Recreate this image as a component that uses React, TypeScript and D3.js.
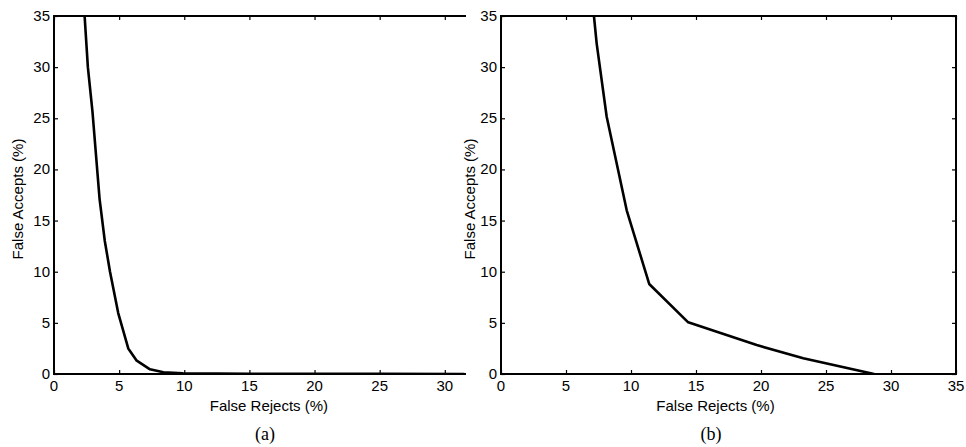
import React, { useEffect, useRef } from "react";
import * as d3 from "d3";

// panel (a) curve
const rejectsA = [2.35, 2.6, 2.95, 3.5, 3.9, 4.3, 4.93, 5.7, 6.35, 7.37, 8.4, 9.9, 15, 20, 25, 31.5];
const acceptsA = [35, 30, 25.7, 17.1, 13, 10, 5.96, 2.5, 1.3, 0.46, 0.17, 0.07, 0.03, 0.02, 0.01, 0];

// panel (b) curve
const rejectsB = [7.15, 7.36, 8.13, 9.67, 11.4, 14.4, 19.67, 23.25, 28.7];
const acceptsB = [35, 32.3, 25.15, 16.0, 8.8, 5.05, 2.83, 1.53, 0];

const yTicks = [0, 5, 10, 15, 20, 25, 30, 35];
const xTicksA = [0, 5, 10, 15, 20, 25, 30];
const xTicksB = [0, 5, 10, 15, 20, 25, 30, 35];

const W = 966;
const H = 447;
const FONT = "'Liberation Sans', Arial, sans-serif";

export default function App() {
  const svgRef = useRef<SVGSVGElement | null>(null);

  useEffect(() => {
    if (!svgRef.current) return;
    const svg = d3.select(svgRef.current);
    svg.selectAll("*").remove();

    const top = 16;
    const bottom = 374;
    const y = d3.scaleLinear().domain([0, 35]).range([bottom, top]);

    const panels = [
      {
        id: "a",
        x: d3.scaleLinear().domain([0, 31.55]).range([54, 465]),
        fr: rejectsA,
        fa: acceptsA,
        xTicks: xTicksA,
        rightSpine: false,
        yLabelX: 18,
        caption: "(a)",
        captionX: 265,
      },
      {
        id: "b",
        x: d3.scaleLinear().domain([0, 35]).range([501, 956]),
        fr: rejectsB,
        fa: acceptsB,
        xTicks: xTicksB,
        rightSpine: true,
        yLabelX: 470,
        caption: "(b)",
        captionX: 711,
      },
    ];

    panels.forEach((p) => {
      const g = svg.append("g");
      const [x0, x1] = p.x.range();

      g.append("clipPath")
        .attr("id", `clip-${p.id}`)
        .append("rect")
        .attr("x", x0)
        .attr("y", top)
        .attr("width", x1 - x0)
        .attr("height", bottom - top);

      // curve
      const pts = p.fr.map((v, i) => [v, p.fa[i]] as [number, number]);
      const line = d3
        .line<[number, number]>()
        .x((d) => p.x(d[0]))
        .y((d) => y(d[1]));
      g.append("path")
        .datum(pts)
        .attr("d", line)
        .attr("fill", "none")
        .attr("stroke", "#000")
        .attr("stroke-width", 2.6)
        .attr("stroke-linejoin", "round")
        .attr("clip-path", `url(#clip-${p.id})`);

      // axes (inward ticks)
      const tick = 4;
      g.append("g")
        .attr("transform", `translate(0,${bottom})`)
        .call(d3.axisTop(p.x).tickValues(p.xTicks).tickSize(tick).tickFormat(() => ""))
        .call((s) => s.select(".domain").remove());
      g.append("g")
        .attr("transform", `translate(0,${top})`)
        .call(d3.axisBottom(p.x).tickValues(p.xTicks).tickSize(tick).tickFormat(() => ""))
        .call((s) => s.select(".domain").remove());
      g.append("g")
        .attr("transform", `translate(${x0},0)`)
        .call(d3.axisRight(y).tickValues(yTicks).tickSize(tick).tickFormat(() => ""))
        .call((s) => s.select(".domain").remove());
      if (p.rightSpine) {
        g.append("g")
          .attr("transform", `translate(${x1},0)`)
          .call(d3.axisLeft(y).tickValues(yTicks).tickSize(tick).tickFormat(() => ""))
          .call((s) => s.select(".domain").remove());
      }
      g.selectAll(".tick line").attr("stroke", "#000").attr("stroke-width", 1.2);

      // spines
      const spine = (xa: number, ya: number, xb: number, yb: number) =>
        g.append("line")
          .attr("x1", xa).attr("y1", ya).attr("x2", xb).attr("y2", yb)
          .attr("stroke", "#000").attr("stroke-width", 2)
          .attr("stroke-linecap", "square");
      spine(x0, bottom, x1, bottom);
      spine(x0, top, x1, top);
      spine(x0, top, x0, bottom);
      if (p.rightSpine) spine(x1, top, x1, bottom);

      // tick labels
      g.selectAll(".xl")
        .data(p.xTicks)
        .enter()
        .append("text")
        .attr("x", (d) => p.x(d))
        .attr("y", 391)
        .attr("text-anchor", "middle")
        .attr("font-family", FONT)
        .attr("font-size", 15)
        .text((d) => d);
      g.selectAll(".yl")
        .data(yTicks)
        .enter()
        .append("text")
        .attr("x", x0 - 4)
        .attr("y", (d) => y(d) + 5)
        .attr("text-anchor", "end")
        .attr("font-family", FONT)
        .attr("font-size", 15)
        .text((d) => d);

      // axis titles
      g.append("text")
        .attr("x", p.x(16.5))
        .attr("y", 411)
        .attr("text-anchor", "middle")
        .attr("font-family", FONT)
        .attr("font-size", 15)
        .text("False Rejects (%)");
      g.append("text")
        .attr("transform", `translate(${p.yLabelX + 5},${(top + bottom) / 2 + 4}) rotate(-90)`)
        .attr("text-anchor", "middle")
        .attr("font-family", FONT)
        .attr("font-size", 15)
        .text("False Accepts (%)");

      // caption
      g.append("text")
        .attr("x", p.captionX)
        .attr("y", 440)
        .attr("text-anchor", "middle")
        .attr("font-family", "'Liberation Serif', 'Times New Roman', serif")
        .attr("font-size", 18)
        .text(p.caption);
    });
  }, []);

  return (
    <svg
      ref={svgRef}
      width={W}
      height={H}
      viewBox={`0 0 ${W} ${H}`}
      style={{ position: "absolute", left: 0, top: 0, background: "#fff", display: "block" }}
    />
  );
}
